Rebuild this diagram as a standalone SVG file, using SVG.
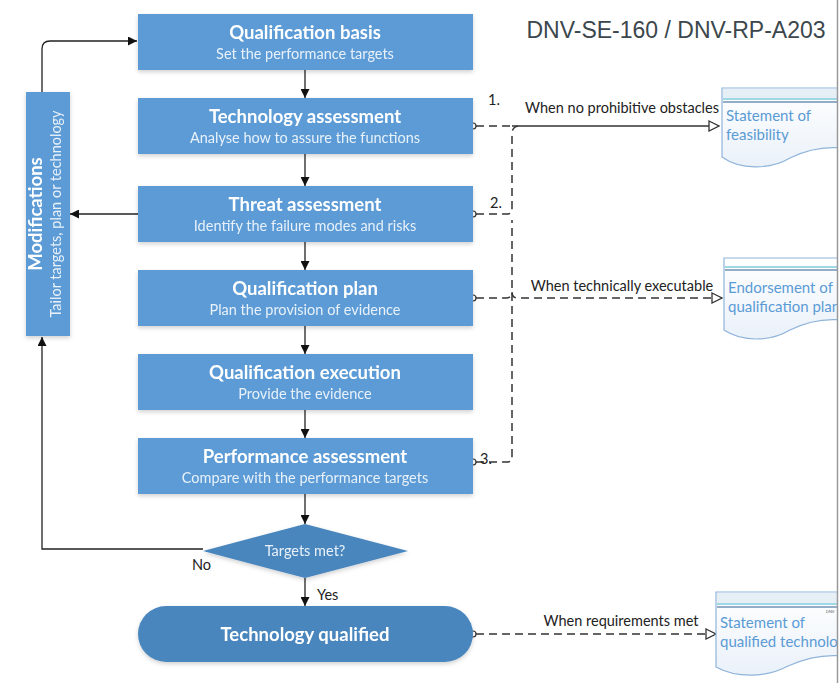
<svg xmlns="http://www.w3.org/2000/svg" width="840" height="683" viewBox="0 0 840 683">
  <defs>
    <style>
      .box { fill: #5b9bd5; }
      .term { fill: #4a86bd; }
      .title { font-family: Lato, "Open Sans", sans-serif; font-weight: bold; font-size: 18.5px; fill: #ffffff; text-anchor: middle; }
      .sub { font-family: Lato, "Open Sans", sans-serif; font-size: 14.5px; fill: #e8f1fa; text-anchor: middle; }
      .flow { fill: none; stroke: #222; stroke-width: 1.3; }
      .dash { fill: none; stroke: #333; stroke-width: 1.5; stroke-dasharray: 8 5; }
      .solid { fill: none; stroke: #333; stroke-width: 1.5; }
      .port { fill: #fff; stroke: #333; stroke-width: 1.2; }
      .lbl { font-family: Lato, "Open Sans", sans-serif; font-size: 14.5px; fill: #222; }
      .doc { fill: url(#docfill); stroke: #8fb4da; stroke-width: 1.2; }
      .doctext { font-family: Lato, "Open Sans", sans-serif; font-size: 15px; fill: #5b9bd5; }
    </style>
    <linearGradient id="docfill" x1="0" y1="0" x2="0" y2="1">
      <stop offset="0" stop-color="#ffffff"/>
      <stop offset="1" stop-color="#eaf1f9"/>
    </linearGradient>
    <clipPath id="pageClip">
      <rect x="0" y="0" width="837" height="683"/>
    </clipPath>
    <filter id="shadow" x="-10%" y="-20%" width="120%" height="150%">
      <feDropShadow dx="0" dy="2" stdDeviation="2" flood-color="#000" flood-opacity="0.18"/>
    </filter>
    <marker id="arr" viewBox="0 0 10 10" refX="10" refY="5" markerWidth="9" markerHeight="9" markerUnits="userSpaceOnUse" orient="auto">
      <path d="M0,0 L10,5 L0,10 z" fill="#111"/>
    </marker>
    <marker id="open" viewBox="0 0 12 12" refX="11" refY="6" markerWidth="12" markerHeight="12" markerUnits="userSpaceOnUse" orient="auto">
      <path d="M1,1 L11,6 L1,11 z" fill="#fff" stroke="#333" stroke-width="1.3"/>
    </marker>
  </defs>

  <rect width="840" height="683" fill="#ffffff"/>

  <text x="676" y="38" font-family="'Liberation Sans', Arial, sans-serif" font-size="23" fill="#3b474c" text-anchor="middle">DNV-SE-160 / DNV-RP-A203</text>

  <!-- connectors -->
  <g id="connectors">
    <!-- main flow -->
    <line class="flow" x1="305" y1="70" x2="305" y2="98" marker-end="url(#arr)"/>
    <line class="flow" x1="305" y1="154" x2="305" y2="186" marker-end="url(#arr)"/>
    <line class="flow" x1="305" y1="242" x2="305" y2="270" marker-end="url(#arr)"/>
    <line class="flow" x1="305" y1="326" x2="305" y2="354" marker-end="url(#arr)"/>
    <line class="flow" x1="305" y1="410" x2="305" y2="438" marker-end="url(#arr)"/>
    <line class="flow" x1="305" y1="494" x2="305" y2="524" marker-end="url(#arr)"/>
    <line class="flow" x1="305" y1="578" x2="305" y2="606" marker-end="url(#arr)"/>
    <!-- modification loop -->
    <line class="flow" x1="138" y1="214" x2="70" y2="214" marker-end="url(#arr)"/>
    <path class="flow" d="M203,549 L42,549 L42,337" marker-end="url(#arr)"/>
    <path class="flow" d="M42,92 L42,49 Q42,41 50,41 L137,41" marker-end="url(#arr)"/>

    <!-- deliverable links -->
    <path class="dash" d="M476,126 L512,126"/>
    <path class="solid" d="M512,126 L719,126" marker-end="url(#open)"/>
    <path class="dash" d="M476,214 L508,214 Q512,214 512,208 L512,134 Q512,126 520,126"/>
    <path class="dash" d="M476,462 L508,462 Q512,462 512,456 L512,220"/>
    <path class="dash" d="M476,298 L506,298 Q512,298 512,292 Q512,298 518,298 L722,298" marker-end="url(#open)"/>
    <path class="dash" d="M476,634 L716,634" marker-end="url(#open)"/>

    <circle class="port" cx="473" cy="126" r="3"/>
    <circle class="port" cx="473" cy="214" r="3"/>
    <circle class="port" cx="473" cy="298" r="3"/>
    <circle class="port" cx="473" cy="462" r="3"/>
    <circle class="port" cx="473" cy="634" r="3"/>

    <text class="lbl" x="488" y="105">1.</text>
    <text class="lbl" x="490" y="208">2.</text>
    <text class="lbl" x="480" y="464">3.</text>
    <text class="lbl" x="622" y="113" text-anchor="middle">When no prohibitive obstacles</text>
    <text class="lbl" x="622" y="291" text-anchor="middle">When technically executable</text>
    <text class="lbl" x="621" y="626" text-anchor="middle">When requirements met</text>
    <text class="lbl" x="192" y="570">No</text>
    <text class="lbl" x="317" y="600">Yes</text>
  </g>

  <!-- process steps -->
  <g id="qualification-basis" filter="url(#shadow)">
    <rect class="box" x="138" y="14" width="335" height="56"/>
    <text class="title" x="305" y="39">Qualification basis</text>
    <text class="sub" x="305" y="59">Set the performance targets</text>
  </g>
  <g id="technology-assessment" filter="url(#shadow)">
    <rect class="box" x="138" y="98" width="335" height="56"/>
    <text class="title" x="305" y="123">Technology assessment</text>
    <text class="sub" x="305" y="143">Analyse how to assure the functions</text>
  </g>
  <g id="threat-assessment" filter="url(#shadow)">
    <rect class="box" x="138" y="186" width="335" height="56"/>
    <text class="title" x="305" y="211">Threat assessment</text>
    <text class="sub" x="305" y="231">Identify the failure modes and risks</text>
  </g>
  <g id="qualification-plan" filter="url(#shadow)">
    <rect class="box" x="138" y="270" width="335" height="56"/>
    <text class="title" x="305" y="295">Qualification plan</text>
    <text class="sub" x="305" y="315">Plan the provision of evidence</text>
  </g>
  <g id="qualification-execution" filter="url(#shadow)">
    <rect class="box" x="138" y="354" width="335" height="56"/>
    <text class="title" x="305" y="379">Qualification execution</text>
    <text class="sub" x="305" y="399">Provide the evidence</text>
  </g>
  <g id="performance-assessment" filter="url(#shadow)">
    <rect class="box" x="138" y="438" width="335" height="56"/>
    <text class="title" x="305" y="463">Performance assessment</text>
    <text class="sub" x="305" y="483">Compare with the performance targets</text>
  </g>

  <g id="modifications" filter="url(#shadow)">
    <rect class="box" x="26" y="92" width="44" height="244"/>
    <text class="title" transform="translate(42,214) rotate(-90)">Modifications</text>
    <text class="sub" transform="translate(61,214) rotate(-90)">Tailor targets, plan or technology</text>
  </g>

  <g id="targets-met" filter="url(#shadow)">
    <polygon class="term" points="305,524 408,551 305,578 203,551"/>
    <text class="sub" x="305" y="556">Targets met?</text>
  </g>

  <g id="technology-qualified" filter="url(#shadow)">
    <rect class="term" x="138" y="606" width="335" height="56" rx="28"/>
    <text class="title" x="305" y="641">Technology qualified</text>
  </g>

  <!-- deliverable documents, cut at the page edge -->
  <g clip-path="url(#pageClip)">
    <g id="doc-feasibility">
      <path class="doc" d="M722,88 L842,88 L842,148 C822,146 806,150 790,158 C770,170 740,170 722,157 Z"/>
      <rect x="723" y="89" width="118" height="9" fill="#e6eef6"/>
      <line x1="723" y1="99" x2="842" y2="99" stroke="#7fcbdc" stroke-width="1.5"/>
      <line x1="723" y1="102" x2="842" y2="102" stroke="#2f5f8f" stroke-width="1"/>
      <text class="doctext" x="726" y="121">Statement of</text>
      <text class="doctext" x="726" y="140">feasibility</text>
    </g>
    <g id="doc-endorsement">
      <path class="doc" d="M724,258 L842,258 L842,320 C822,318 806,322 790,330 C770,342 742,342 724,330 Z"/>
      <line x1="725" y1="267" x2="842" y2="267" stroke="#7fcbdc" stroke-width="1.5"/>
      <line x1="725" y1="270" x2="842" y2="270" stroke="#2f5f8f" stroke-width="1"/>
      <text class="doctext" x="728" y="293">Endorsement of</text>
      <text class="doctext" x="728" y="312">qualification plan</text>
    </g>
    <g id="doc-qualified">
      <path class="doc" d="M716,592 L842,592 L842,656 C822,654 806,658 788,666 C766,678 736,678 716,667 Z"/>
      <rect x="717" y="593" width="124" height="10" fill="#e6eef6"/>
      <line x1="717" y1="604" x2="842" y2="604" stroke="#7fcbdc" stroke-width="1.5"/>
      <line x1="717" y1="607" x2="842" y2="607" stroke="#2f5f8f" stroke-width="1"/>
      <text x="826" y="613" font-family="'Liberation Sans', sans-serif" font-size="4" fill="#555">DNV</text>
      <text class="doctext" x="720" y="628">Statement of</text>
      <text class="doctext" x="720" y="647">qualified technology</text>
    </g>
  </g>

  <line x1="837.5" y1="0" x2="837.5" y2="683" stroke="#9a9a9a" stroke-width="1.5"/>
</svg>
